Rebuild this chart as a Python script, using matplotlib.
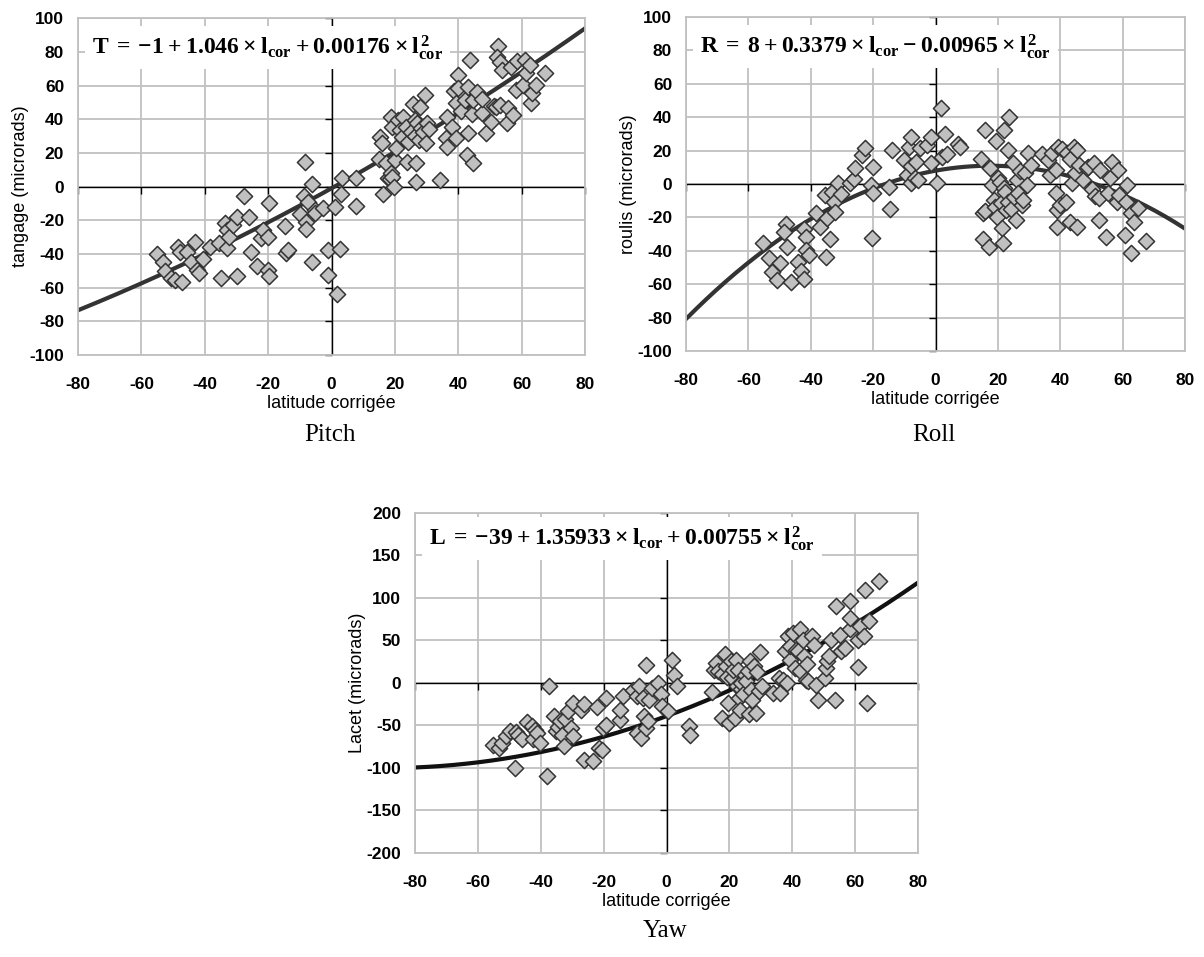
import numpy as np
import matplotlib
matplotlib.use("Agg")
import matplotlib.pyplot as plt

plt.rcParams['font.family'] = ['Liberation Sans', 'DejaVu Sans']
plt.rcParams['axes.unicode_minus'] = False
plt.rcParams['mathtext.fontset'] = 'custom'
plt.rcParams['mathtext.rm'] = 'Liberation Serif:bold'
plt.rcParams['mathtext.it'] = 'Liberation Serif:bold'
plt.rcParams['mathtext.bf'] = 'Liberation Serif:bold'

# ---- Pitch (tangage) ----
pitch_lat = [-55.2, -53.3, -52.4, -50.5, -49.3, -48.5, -47.8, -47.3, -45.7, -44.2,
             -43.0, -42.4, -41.7, -40.5, -38.4, -35.4, -34.8, -33.6, -33.0, -33.0,
             -32.4, -31.2, -29.9, -29.9, -27.5, -25.9, -25.4, -23.5, -22.4, -21.5,
             -19.9, -19.6, -20.0, -19.6, -14.8, -14.5, -13.8, -8.5, -8.7, -9.9,
             -8.1, -7.9, -7.5, -6.1, -6.1, -5.1, -5.3, -2.7, -1.2, -1.2,
             1.0, 1.8, 2.8, 3.0, 3.4, 7.6, 7.6,
             14.9, 15.3, 15.8, 16.1, 17.3, 17.7, 18.5, 18.9, 19.2, 18.9,
             19.2, 19.8, 20.1, 20.4, 21.0, 21.6, 22.2, 22.5, 23.4, 23.8,
             24.2, 25.2, 25.8, 26.2, 26.4, 26.7, 26.7, 27.0, 27.6, 28.0,
             28.2, 28.8, 29.5, 29.8, 30.1, 30.7, 34.3, 36.1, 36.4, 36.5,
             37.9, 38.5, 39.2, 39.8, 39.2, 39.8, 41.0, 42.2, 42.8, 43.2,
             43.2, 43.6, 44.4, 44.6, 44.8, 45.8, 47.6, 47.6, 48.8, 50.4,
             51.3, 51.9, 52.5, 52.1, 53.1, 53.7, 53.1, 55.3, 55.8, 56.7,
             57.3, 58.2, 58.5, 60.4, 61.0, 61.3, 62.5, 63.0, 63.4, 64.6,
             67.4]
pitch_val = [-40.0, -44.6, -50.0, -54.5, -55.4, -36.0, -38.6, -56.4, -38.6, -44.6,
             -32.7, -49.5, -51.0, -43.0, -35.6, -33.7, -54.5, -21.4, -25.7, -36.6,
             -29.7, -22.8, -17.8, -53.0, -5.5, -17.8, -39.0, -46.9, -30.7, -25.7,
             -29.7, -9.9, -49.5, -53.0, -23.2, -39.6, -37.6, 14.9, -5.5, -16.2,
             -20.8, -25.3, -8.9, 1.6, -44.6, -13.9, -15.4, -12.9, -37.6, -52.5,
             -12.3, -63.8, -37.2, -4.6, 5.0, 5.0, -11.3,
             16.2, 29.7, 26.1, -4.4, 13.9, 5.0, 4.4, 41.6, 35.6, 8.3,
             5.5, 0.0, 15.8, 22.8, 39.6, 33.7, 29.7, 41.2, 35.6, 14.9,
             26.7, 32.7, 49.1, 39.6, 30.1, 14.3, 3.0, 38.0, 27.7, 47.5,
             34.7, 32.7, 54.5, 25.7, 38.0, 34.0, 4.0, 28.7, 23.8, 41.6,
             35.6, 56.8, 28.7, 66.3, 49.5, 58.4, 44.6, 51.5, 18.8, 31.7,
             59.4, 74.9, 43.2, 13.9, 51.5, 56.4, 43.6, 51.9, 31.7, 38.6,
             47.9, 47.5, 83.6, 76.8, 73.7, 69.3, 48.5, 37.6, 46.5, 71.3,
             42.6, 57.4, 74.3, 60.4, 75.2, 67.7, 72.3, 49.5, 55.4, 60.4,
             67.3]
pitch_coef = [0.00176, 1.046, -1.0]

# ---- Roll (roulis) ----
roll_lat = [-55.3, -53.5, -52.6, -50.7, -49.8, -47.9, -48.5, -47.5, -46.3, -44.2,
            -43.3, -42.3, -42.1, -41.7, -41.4, -40.5, -38.4, -37.2, -35.6, -35.2,
            -34.7, -33.7, -33.1, -32.7, -32.2, -31.2, -30.2, -27.5, -26.3, -25.7,
            -23.6, -22.6, -20.7, -20.1, -19.9, -20.4, -14.9, -14.6, -14.0, -10.2,
            -9.0, -8.6, -8.0, -7.8, -8.0, -6.5, -6.3, -5.6, -5.1, -2.6,
            -1.4, -1.4, 0.6, 1.7, 3.0, 2.1, 3.6, 7.3, 7.7,
            14.7, 15.1, 15.7, 15.7, 15.1, 17.2, 17.5, 18.1, 18.8, 19.4,
            19.1, 20.0, 19.6, 20.6, 20.9, 21.2, 21.9, 21.9, 22.1, 21.6,
            22.5, 23.1, 23.3, 23.7, 24.1, 24.9, 25.3, 25.8, 26.2, 26.5,
            27.0, 27.8, 28.0, 28.6, 29.3, 29.5, 30.5, 34.0, 36.0, 36.7,
            37.3, 38.5, 38.5, 38.9, 38.9, 39.1, 39.8, 40.4, 41.9, 42.2,
            43.1, 43.1, 43.8, 44.3, 44.7, 45.3, 45.3, 45.9, 47.2, 48.4,
            49.0, 50.9, 50.2, 51.2, 52.5, 52.7, 52.5, 54.6, 55.2, 55.8,
            56.7, 58.6, 58.3, 58.9, 60.7, 61.4, 61.1, 62.8, 62.8, 63.6,
            64.8, 67.5]
roll_val = [-35.5, -44.4, -52.4, -57.4, -47.0, -23.9, -28.5, -37.5, -58.4, -46.4,
            -51.8, -57.0, -27.1, -31.5, -39.8, -42.4, -17.1, -25.5, -6.6, -43.4,
            -20.5, -33.0, -4.6, -10.6, -16.5, 0.4, -6.0, 0.8, 3.0, 9.4,
            17.3, 21.7, -0.6, -5.6, 10.4, -32.5, -1.6, -15.1, 20.3, 14.3,
            5.4, 22.3, 27.9, 0.8, 10.8, 3.4, 13.3, 2.4, 21.3, 23.3,
            28.3, 12.4, 0.8, 45.8, 29.9, 15.9, 17.9, 23.9, 22.3,
            14.7, -17.1, -15.9, 32.3, -33.1, -37.8, 9.4, -0.6, -9.6, 25.9,
            -13.9, 3.4, -19.9, 1.4, -11.6, -26.5, 32.3, -2.6, -4.6, -35.1,
            -15.5, -10.6, 20.3, 40.2, -15.1, 12.4, -7.6, -21.5, 2.4, -5.6,
            8.0, -12.5, -9.6, 6.4, -0.6, 18.7, 11.4, 17.9, 14.3, 5.4,
            18.3, 8.4, -5.2, -15.5, -25.5, 22.3, -12.5, 20.7, -10.6, 18.7,
            14.7, -22.5, 0.8, 22.3, 6.4, -25.5, 20.3, 11.4, 2.4, 9.4,
            10.4, 12.4, -3.2, -7.2, -8.6, 8.4, -21.5, -31.9, -5.6, 3.4,
            13.3, 8.4, -10.6, -6.6, -30.5, -0.6, -10.6, -17.5, -41.4, -22.5,
            -14.5, -33.9]
roll_coef = [-0.00965, 0.3379, 8.0]

# ---- Yaw (lacet) ----
yaw_lat = [-55.3, -53.4, -52.4, -51.0, -49.8, -48.3, -47.9, -47.3, -46.1, -44.3,
           -42.7, -42.4, -41.8, -41.2, -40.2, -38.1, -37.3, -35.7, -35.3, -34.5,
           -33.9, -33.3, -32.6, -32.4, -31.4, -30.4, -29.9, -29.6, -27.1, -26.3,
           -26.2, -23.5, -22.2, -21.6, -20.4, -20.1, -19.4, -19.4, -14.9, -14.9,
           -13.7, -10.6, -9.4, -8.8, -9.4, -8.2, -7.6, -7.2, -6.4, -6.4,
           -6.0, -5.7, -4.5, -2.7, -1.8, -1.5, 0.4, 1.8, 2.4, 3.4,
           7.1, 7.5,
           14.4, 15.0, 15.6, 16.3, 17.5, 17.7, 18.5, 18.9, 19.3, 19.7,
           19.9, 20.5, 20.9, 21.1, 21.8, 22.1, 22.4, 22.6, 23.0, 23.3,
           23.6, 23.8, 24.2, 24.8, 25.4, 25.8, 26.3, 26.7, 27.0, 27.3,
           27.9, 28.5, 28.7, 29.7, 29.5, 30.3, 34.0, 35.8, 36.1, 37.0,
           37.7, 38.3, 38.5, 39.2, 39.2, 40.1, 40.9, 41.3, 41.9, 42.5,
           42.5, 43.4, 43.8, 44.4, 44.6, 45.0, 46.2, 46.8, 47.4, 48.3,
           50.5, 50.7, 51.1, 51.7, 52.3, 53.5, 53.9, 55.1, 55.6, 56.8,
           58.4, 58.4, 58.4, 60.9, 60.9, 61.5, 62.7, 63.0, 63.7, 64.5,
           67.6]
yaw_val = [-73.2, -76.3, -70.5, -62.6, -56.8, -99.8, -57.9, -61.8, -66.5, -46.2,
           -50.9, -66.5, -55.6, -58.7, -70.5, -109.6, -3.1, -39.1, -56.8, -51.7,
           -45.0, -61.8, -73.6, -42.3, -33.3, -52.8, -62.6, -23.5, -31.3, -24.7,
           -90.8, -92.0, -28.2, -76.3, -78.3, -52.8, -48.9, -17.6, -43.0, -31.3,
           -15.7, -7.8, -15.7, -3.9, -58.7, -64.6, -17.6, -39.1, 21.5, -52.8,
           -45.0, -19.6, -5.9, 0.0, -12.5, -27.4, -33.3, 26.6, 9.8, -3.1,
           -50.1, -61.8,
           -11.0, 15.7, 23.5, 13.7, 11.0, -41.1, 34.4, 20.4, 7.0, -23.5,
           -47.0, 25.4, 5.9, 15.7, -41.1, 26.6, -3.9, 15.7, -17.6, -31.3,
           -7.0, 0.0, -12.5, 9.8, 2.0, 13.7, -36.0, 25.4, -7.8, -19.6,
           19.6, -35.2, 12.5, 36.0, -9.8, -3.9, -11.7, 5.9, -11.7, 3.9,
           37.2, 0.0, 54.8, 27.4, 43.1, 58.7, 17.6, 39.1, 37.2, 63.4,
           13.7, 50.9, 31.3, 3.9, 22.7, 2.0, 54.8, 45.0, -2.0, -20.4,
           5.9, 17.6, 25.4, 31.3, 50.1, -19.6, 90.0, 56.0, 37.2, 41.1,
           63.4, 97.0, 76.3, 50.9, 18.8, 67.3, 55.6, 108.8, -23.5, 73.2,
           119.4]
yaw_coef = [0.00755, 1.35933, -39.0]

x_ticks = [-80, -60, -40, -20, 0, 20, 40, 60, 80]

panels = [
    dict(lat=pitch_lat, val=pitch_val, coef=pitch_coef, ylim=(-100, 100), step=20,
         ylabel='tangage (microrads)', caption='Pitch', line='#333333',
         eq=r'$T\:=\:-1\:+\:1.046\:\times\:l_{cor}\:+\:0.00176\:\times\:l_{cor}^{2}$',
         eq_y=0.893, rect=[0.0648, 0.629, 0.4211, 0.352], cap_xy=(0.274, 0.545)),
    dict(lat=roll_lat, val=roll_val, coef=roll_coef, ylim=(-100, 100), step=20,
         ylabel='roulis (microrads)', caption='Roll', line='#333333',
         eq=r'$R\:=\:8\:+\:0.3379\:\times\:l_{cor}\:-\:0.00965\:\times\:l_{cor}^{2}$',
         eq_y=0.892, rect=[0.5698, 0.6332, 0.4145, 0.349], cap_xy=(0.776, 0.545)),
    dict(lat=yaw_lat, val=yaw_val, coef=yaw_coef, ylim=(-200, 200), step=50,
         ylabel='Lacet (microrads)', caption='Yaw', line='#111111',
         eq=r'$L\:=\:-39\:+\:1.35933\:\times\:l_{cor}\:+\:0.00755\:\times\:l_{cor}^{2}$',
         eq_y=0.906, rect=[0.3447, 0.1087, 0.4178, 0.3553], cap_xy=(0.552, 0.027)),
]

fig = plt.figure(figsize=(12.04, 9.57), dpi=100)

for p in panels:
    ax = fig.add_axes(p['rect'])
    ax.set_xlim(-80, 80)
    ax.set_ylim(*p['ylim'])
    y_ticks = np.arange(p['ylim'][0], p['ylim'][1] + 1, p['step'])
    ax.set_xticks(x_ticks)
    ax.set_yticks(y_ticks)
    ax.grid(True, color='#c0c0c0', lw=1.3, zorder=0)
    ax.set_axisbelow(True)
    for s in ax.spines.values():
        s.set_color('#c0c0c0')
        s.set_linewidth(1.3)
    ax.tick_params(length=0, labelsize=12.5)
    ax.tick_params(axis='y', pad=10)
    ax.tick_params(axis='x', pad=16)
    for lab in ax.get_xticklabels() + ax.get_yticklabels():
        lab.set_fontweight('bold')

    # axes crossing at zero with small tick marks
    ax.axhline(0, color='black', lw=1, zorder=1)
    ax.axvline(0, color='black', lw=1, zorder=1)
    ax.plot(x_ticks, np.zeros(len(x_ticks)), ls='none', marker=3, ms=5,
            mew=1, color='black', zorder=1, clip_on=False)
    ax.plot(np.zeros(len(y_ticks)), y_ticks, ls='none', marker=0, ms=5,
            mew=1, color='black', zorder=1, clip_on=False)

    xs = np.linspace(-80, 80, 200)
    ax.plot(xs, np.polyval(p['coef'], xs), color=p['line'], lw=3, zorder=2)
    ax.scatter(p['lat'], p['val'], marker='D', s=68, facecolor='#c0c0c0',
               edgecolor='#333333', linewidth=1.1, zorder=3)

    ax.text(0.028, p['eq_y'], p['eq'], transform=ax.transAxes, fontsize=17,
            va='baseline', ha='left', zorder=4,
            bbox=dict(boxstyle='square,pad=0.3', facecolor='white', edgecolor='none'))

    ax.set_xlabel('latitude corrigée', fontsize=13, labelpad=2)
    ax.set_ylabel(p['ylabel'], fontsize=13, labelpad=0)

    fig.text(p['cap_xy'][0], p['cap_xy'][1], p['caption'], ha='center',
             va='center', fontsize=18, family='Liberation Serif')

fig.savefig('out.png', dpi=100)
